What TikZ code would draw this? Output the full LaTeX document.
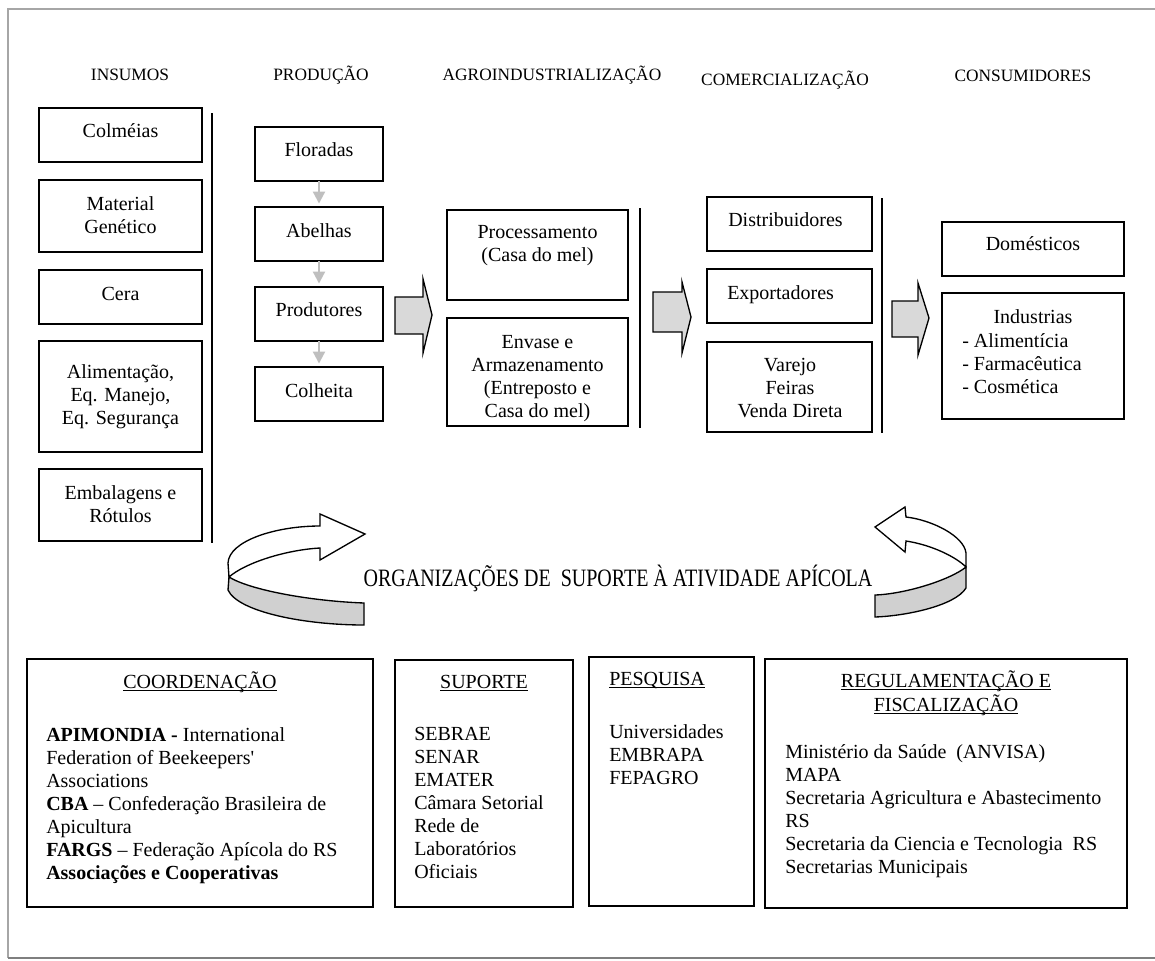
\documentclass[tikz,border=0pt]{standalone}
\usepackage{fontspec}
\setmainfont{Liberation Serif}[Ligatures=TeXOff]
\usetikzlibrary{arrows.meta}
\definecolor{framegray}{HTML}{A6A6A6}
\definecolor{framedark}{HTML}{7F7F7F}
\definecolor{blockfill}{HTML}{D9D9D9}
\definecolor{bandfill}{HTML}{D0D0D0}
\definecolor{stepgray}{HTML}{BFBFBF}

% rectangle node given by its corners (in px units)
\newcommand\chainbox[6][box]{%
  \node[#1, minimum width={(#5-#3)*0.75pt}, minimum height={(#6-#4)*0.75pt}]
    (#2) at ({(#3+#5)/2},{(#4+#6)/2}) {};}
\newcommand\ttl[1]{\underline{\smash{#1}}}

\begin{document}
\begin{tikzpicture}[x=0.75pt,y=-0.75pt,
  box/.style={draw=black, line width=1.5pt, fill=white, inner sep=0pt, outer sep=0pt},
  orgbox/.style={box, line width=1.8pt},
  hd/.style={font=\fontsize{13}{15}\selectfont, anchor=base, inner sep=0pt},
  tx/.style={font=\fontsize{15}{17.25}\selectfont, anchor=base, inner sep=0pt},
  mtx/.style={font=\fontsize{15}{17.25}\selectfont, inner sep=0pt, execute at begin node=\strut},
  divider/.style={line width=1.1pt},
  flow/.style={draw=black, line width=1pt, fill=blockfill, line join=miter},
  ribbonw/.style={draw=black, line width=1pt, fill=white},
  ribbong/.style={draw=black, line width=1pt, fill=bandfill},
  down/.style={draw=stepgray, line width=1.6pt, -{Triangle[width=9pt,length=9pt]}, shorten >=2.6pt},
]
\useasboundingbox (0,0) rectangle (1155,960);
\fill[white] (0,0) rectangle (1155,960);

% page frame
\draw[framegray, line width=1.6pt] (1160,9) -- (8,9) -- (8,958);
\draw[framedark, line width=2pt] (8,958) -- (1160,958);

% column headings
\node[hd] (h-ins) at (130,80) {INSUMOS};
\node[hd] (h-pro) at (321,80) {PRODUÇÃO};
\node[hd] (h-agr) at (552,80) {AGROINDUSTRIALIZAÇÃO};
\node[hd] (h-com) at (785,85) {COMERCIALIZAÇÃO};
\node[hd] (h-con) at (1023,81) {CONSUMIDORES};

% ---- insumos
\chainbox{col}{39}{108}{202}{162}
\chainbox{mat}{39}{180}{202}{252}
\chainbox{cera}{39}{270}{202}{324}
\chainbox{alim}{39}{341}{202}{452}
\chainbox{emb}{39}{469}{202}{541}
\node[tx] (col-t) at (120.5,137) {Colméias};
\node[mtx, anchor=north, align=center] (mat-t) at (120.5,195.9) {Material\\Genético};
\node[tx] (cera-t) at (120.5,300) {Cera};
\node[mtx, anchor=north, align=center] (alim-t) at (120.5,363.9) {Alimentação,\\Eq. Manejo,\\Eq. Segurança};
\node[mtx, anchor=north, align=center] (emb-t) at (120.5,484.9) {Embalagens e\\Rótulos};
\draw[divider] (212,113) -- (212,543);

% ---- producao
\chainbox{flor}{255}{127}{383}{181}
\chainbox{abel}{255}{207}{383}{261}
\chainbox{prod}{255}{287}{383}{341}
\chainbox{colh}{255}{367}{383}{421}
\node[tx] (flor-t) at (319,156) {Floradas};
\node[tx] (abel-t) at (319,237) {Abelhas};
\node[tx] (prod-t) at (319,316) {Produtores};
\node[tx] (colh-t) at (319,397) {Colheita};
\draw[down] (flor) -- (abel);
\draw[down] (abel) -- (prod);
\draw[down] (prod) -- (colh);

% ---- agroindustrializacao
\chainbox{proc}{447}{210}{628}{300}
\chainbox{env}{447}{318}{628}{426}
\node[mtx, anchor=north, align=center] (proc-t) at (537.5,225.4) {Processamento\\(Casa do mel)};
\node[mtx, anchor=north, align=center] (env-t) at (537.5,334.9) {Envase e\\Armazenamento\\(Entreposto e\\Casa do mel)};
\draw[divider] (640,208) -- (640,428);

% ---- comercializacao
\chainbox{dist}{707}{197}{872}{251}
\chainbox{exp}{707}{269}{872}{323}
\chainbox{var}{707}{342}{872}{432}
\node[tx, anchor=base west] (dist-t) at (728,226.5) {Distribuidores};
\node[tx, anchor=base west] (exp-t) at (727,299.5) {Exportadores};
\node[mtx, anchor=north, align=center] (var-t) at (790,357.9) {Varejo\\Feiras\\Venda Direta};
\draw[divider] (882,198) -- (882,433);

% ---- consumidores
\chainbox{dom}{942}{222}{1124}{276}
\chainbox{ind}{942}{293}{1124}{419}
\node[tx] (dom-t) at (1033,250.5) {Domésticos};
\node[tx] (ind-t) at (1033,323.5) {Industrias};
\node[mtx, anchor=north west, align=left] (ind-l) at (962,333.4) {- Alimentícia\\- Farmacêutica\\- Cosmética};

% block arrows between stages
\filldraw[flow] (395,297) -- (423,297) -- (423,279) -- (432,315) -- (423,353) -- (423,334) -- (395,334) -- cycle;
\filldraw[flow] (653,292) -- (682,292) -- (682,282) -- (691,317) -- (682,353) -- (682,332) -- (653,332) -- cycle;
\filldraw[flow] (892,301) -- (918,301) -- (918,283) -- (929,318) -- (918,355) -- (918,337) -- (892,337) -- cycle;

% ---- circular ribbons
\filldraw[ribbonw] (320,526) .. controls (275,526) and (229,541) .. (228,563) -- (229,577)
  .. controls (245,563) and (285,550) .. (320,548) -- (320,560) -- (365,534) -- (320,514) -- cycle;
\filldraw[ribbong] (229,577) .. controls (250,590) and (310,601) .. (364,603) -- (364,625)
  .. controls (305,625) and (238,612) .. (228,590) -- cycle;

\filldraw[ribbonw] (906,517) .. controls (932,520) and (964,536) .. (966,553) -- (966,567)
  .. controls (956,557) and (932,545) .. (906,541) -- (905,552) -- (875,527) -- (905,507) -- cycle;
\filldraw[ribbong] (966,567) .. controls (950,580) and (905,594) .. (875,595) -- (875,617)
  .. controls (905,616) and (955,606) .. (966,588) -- cycle;

\node[anchor=base, inner sep=0pt, font=\fontsize{18.75}{22}\selectfont] (org) at (618,586)
  {\scalebox{0.8}[1]{ORGANIZAÇÕES DE\ \ SUPORTE À ATIVIDADE APÍCOLA}};

% ---- support organisations
\chainbox[orgbox]{coord}{27}{659}{373}{907}
\chainbox[orgbox]{sup}{395}{660}{573}{907}
\chainbox[orgbox]{pesq}{589}{657}{754}{906}
\chainbox[orgbox]{reg}{765}{659}{1127}{908}

\node[tx] (coord-h) at (200,688) {\ttl{COORDENAÇÃO}};
\node[mtx, anchor=north west, align=left] (coord-t) at (46,726.9)
  {\textbf{APIMONDIA -} International\\Federation of Beekeepers'\\Associations\\
   \textbf{CBA} – Confederação Brasileira de\\Apicultura\\
   \textbf{FARGS} – Federação Apícola do RS\\\textbf{Associações e Cooperativas}};

\node[tx] (sup-h) at (484,688) {\ttl{SUPORTE}};
\node[mtx, anchor=north west, align=left] (sup-t) at (414,726.9)
  {SEBRAE\\SENAR\\EMATER\\Câmara Setorial\\Rede de\\Laboratórios\\Oficiais};

\node[tx, anchor=base west] (pesq-h) at (609,685) {\ttl{PESQUISA}};
\node[mtx, anchor=north west, align=left] (pesq-t) at (609,723.9)
  {Universidades\\EMBRAPA\\FEPAGRO};

\node[tx] (reg-h1) at (946,687) {\ttl{REGULAMENTAÇÃO E}};
\node[tx] (reg-h2) at (946,711) {\ttl{FISCALIZAÇÃO}};
\node[mtx, anchor=north west, align=left] (reg-t) at (785,743.9)
  {Ministério da Saúde\ \ (ANVISA)\\MAPA\\Secretaria Agricultura e Abastecimento\\RS\\
   Secretaria da Ciencia e Tecnologia\ \ RS\\Secretarias Municipais};
\end{tikzpicture}
\end{document}
